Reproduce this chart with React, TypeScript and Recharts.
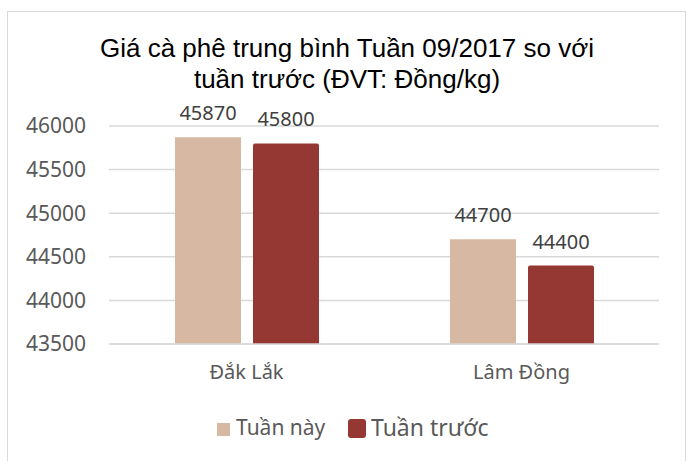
import React from "react";
import { BarChart, Bar, XAxis, YAxis, CartesianGrid, LabelList } from "recharts";

const categories = ["Đắk Lắk", "Lâm Đồng"];
const tuanNay = [45870, 44700];
const tuanTruoc = [45800, 44400];
const yTicks = [43500, 44000, 44500, 45000, 45500, 46000];
const seriesNames = ["Tuần này", "Tuần trước"];
const titleLines = ["Giá cà phê trung bình Tuần 09/2017 so với", "tuần trước (ĐVT: Đồng/kg)"];

const data = categories.map((c, i) => ({ name: c, a: tuanNay[i], b: tuanTruoc[i] }));

const LIGHT = "#D7B8A3";
const DARK = "#953733";
const FONT = "'Noto Sans', sans-serif";

export default function App() {
  return (
    <div style={{ position: "absolute", left: 0, top: 0, width: 687, height: 461, background: "#fff", overflow: "hidden" }}>
      <div
        style={{
          position: "absolute",
          left: 7,
          top: 11,
          width: 679,
          height: 470,
          border: "1px solid #d9d9d9",
          boxSizing: "border-box",
        }}
      />
      <div style={{ position: "absolute", left: 0, top: 0 }}>
        <BarChart
          width={687}
          height={461}
          data={data}
          margin={{ top: 126, right: 28, bottom: 87, left: 0 }}
          barCategoryGap="24%"
          barGap={12}
        >
          <CartesianGrid vertical={false} stroke="#d9d9d9" strokeWidth={1.5} />
          <XAxis
            dataKey="name"
            height={30}
            axisLine={{ stroke: "#d9d9d9", strokeWidth: 1.5 }}
            tickLine={false}
            tickSize={0}
            tickMargin={21}
            tick={{ fill: "#595959", fontSize: 20, fontFamily: FONT }}
          />
          <YAxis
            width={109}
            domain={[43500, 46000]}
            ticks={yTicks}
            axisLine={false}
            tickLine={false}
            tickSize={0}
            tickMargin={23}
            tick={{ fill: "#595959", fontSize: 21, fontFamily: FONT }}
          />
          <Bar dataKey="a" name={seriesNames[0]} fill={LIGHT} isAnimationActive={false}>
            <LabelList dataKey="a" position="top" offset={17} fill="#404040" fontSize={20} fontFamily={FONT} />
          </Bar>
          <Bar dataKey="b" name={seriesNames[1]} fill={DARK} radius={[2, 2, 0, 0]} isAnimationActive={false}>
            <LabelList dataKey="b" position="top" offset={17} fill="#404040" fontSize={20} fontFamily={FONT} />
          </Bar>
        </BarChart>
      </div>
      <svg width={687} height={461} style={{ position: "absolute", left: 0, top: 0, pointerEvents: "none" }}>
        <text x={347} y={57} textAnchor="middle" fontFamily="'Liberation Sans', Arial, sans-serif" fontSize={26} fill="#000">
          {titleLines[0]}
        </text>
        <text x={347} y={88} textAnchor="middle" fontFamily="'Liberation Sans', Arial, sans-serif" fontSize={26} fill="#000">
          {titleLines[1]}
        </text>
        <rect x={217} y={423} width={13} height={13} fill={LIGHT} />
        <text x={236} y={435} fontFamily={FONT} fontSize={21} fill="#595959">
          {seriesNames[0]}
        </text>
        <rect x={348} y={419} width={18} height={19} rx={3} fill={DARK} />
        <text x={371} y={436} fontFamily={FONT} fontSize={23} fill="#595959">
          {seriesNames[1]}
        </text>
      </svg>
    </div>
  );
}
